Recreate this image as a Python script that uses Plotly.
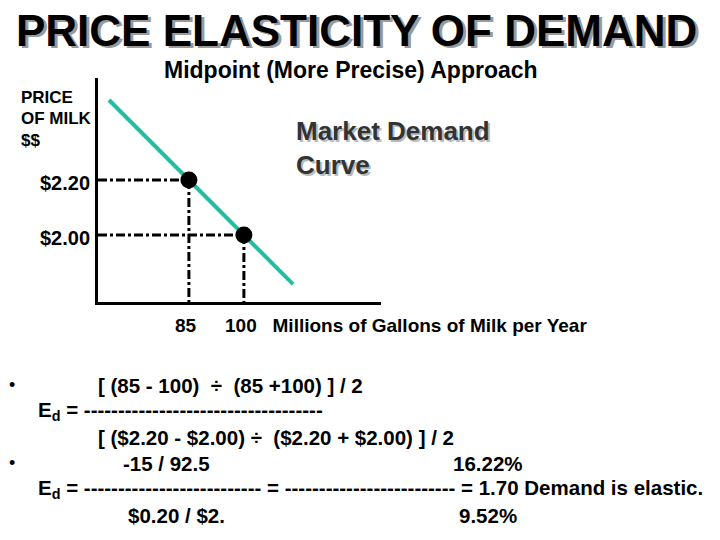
import plotly.graph_objects as go

# data
prices = [2.20, 2.00]
quantities = [85, 100]
price_labels = ["$2.20", "$2.00"]
qty_labels = ["85", "100"]
demand_x = [63.2, 113.4]
demand_y = [2.491, 1.821]

W, H = 720, 540
DX, DY = -7, -8   # page offset correction
X0, X1 = 60.2, 137.4
Y0, Y1 = 1.756, 2.571
FONT = "Liberation Sans, Arial, sans-serif"


def px(x, y):
    return (x + DX) / W, 1 - (y + DY) / H


fig = go.Figure()

# demand curve
fig.add_trace(go.Scatter(x=demand_x, y=demand_y, mode="lines",
                         line=dict(color="#1fbfa0", width=4), showlegend=False))

# guide lines from each point to the axes
for q, p in zip(quantities, prices):
    fig.add_trace(go.Scatter(x=[X0, q], y=[p, p], mode="lines",
                             line=dict(color="black", width=3, dash="dashdot"),
                             showlegend=False))
    fig.add_trace(go.Scatter(x=[q, q], y=[p, Y0], mode="lines",
                             line=dict(color="black", width=3, dash="dashdot"),
                             showlegend=False))

fig.add_trace(go.Scatter(x=quantities, y=prices, mode="markers",
                         marker=dict(color="black", size=17), showlegend=False))

fig.update_xaxes(domain=[(97 + DX) / W, (380 + DX) / W], range=[X0, X1], showgrid=False,
                 zeroline=False, showticklabels=False, ticks="",
                 showline=True, linecolor="black", linewidth=3)
fig.update_yaxes(domain=[(H - 302 - DY) / H, (H - 78 - DY) / H], range=[Y0, Y1],
                 showgrid=False, zeroline=False, showticklabels=False, ticks="",
                 showline=True, linecolor="black", linewidth=3)

ann = []


def text(x, y, s, size=19, color="black", anchor="left"):
    ax, ay = px(x, y)
    ann.append(dict(x=ax, y=ay, xref="paper", yref="paper", text=s,
                    showarrow=False, xanchor=anchor, yanchor="middle",
                    font=dict(family=FONT, size=size, color=color)))


# title with shadow
text(358, 33, "<b>PRICE ELASTICITY OF DEMAND</b>", 44, "#9a9a9a", "center")
text(355, 30, "<b>PRICE ELASTICITY OF DEMAND</b>", 44, "black", "center")
text(350, 70, "<b>Midpoint (More Precise) Approach</b>", 23, "black", "center")

text(18, 98, "<b>PRICE</b>", 17)
text(18, 119, "<b>OF MILK</b>", 17)
text(18, 140, "<b>$$</b>", 17)

for p, lab in zip([183, 238], price_labels):
    text(37, p, "<b>%s</b>" % lab, 20)

text(295, 133, "<b>Market Demand</b>", 26, "#bbbbbb")
text(293, 131, "<b>Market Demand</b>", 26, "#333333")
text(295, 167, "<b>Curve</b>", 26, "#bbbbbb")
text(293, 165, "<b>Curve</b>", 26, "#333333")

text(172, 325, "<b>%s</b>" % qty_labels[0], 19)
text(222, 325, "<b>%s   Millions of Gallons of Milk per Year</b>" % qty_labels[1], 19)

BF = 20.5
text(6, 385, "•", 18)
text(95, 385, "<b>[ (85 - 100)  ÷  (85 +100) ] / 2</b>", BF)
text(35, 411, "<b>E<sub>d</sub> = -----------------------------------</b>", BF)
text(95, 437, "<b>[ ($2.20 - $2.00) ÷  ($2.20 + $2.00) ] / 2</b>", BF)
text(6, 463, "•", 18)
text(120, 463, "<b>-15 / 92.5</b>", BF)
text(450, 463, "<b>16.22%</b>", BF)
text(35, 489, "<b>E<sub>d</sub> = -------------------------- = ------------------------- = 1.70 Demand is elastic.</b>", BF)
text(125, 515, "<b>$0.20 / $2.</b>", BF)
text(456, 515, "<b>9.52%</b>", BF)

fig.update_layout(width=W, height=H, margin=dict(l=0, r=0, t=0, b=0),
                  paper_bgcolor="white", plot_bgcolor="white",
                  annotations=ann)

fig.write_html("out.html")
